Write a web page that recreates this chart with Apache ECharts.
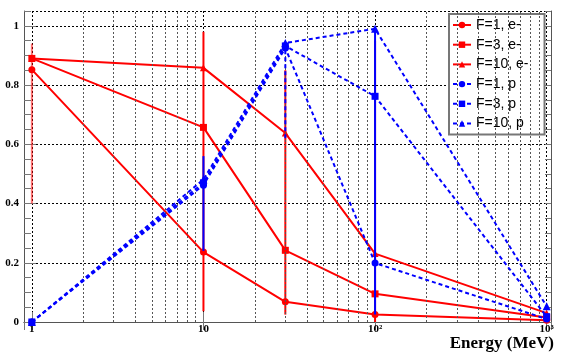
<!DOCTYPE html>
<html><head><meta charset="utf-8">
<script src="https://cdn.jsdelivr.net/npm/echarts@6/dist/echarts.min.js"></script>
<style>html,body{margin:0;padding:0;background:#fff}#c{width:572px;height:355px}</style>
</head><body><div id="c"></div>
<script>
// ---- data ----
const energies = [1, 10, 30, 100, 1000];
const eF1  = [0.852, 0.236, 0.068, 0.025, 0.006];
const eF3  = [0.890, 0.657, 0.242, 0.095, 0.015];
const eF10 = [0.890, 0.858, 0.638, 0.231, 0.030];
const pF1  = [0.000, 0.462, 0.925, 0.199, 0.010];
const pF3  = [0.000, 0.470, 0.932, 0.762, 0.018];
const pF10 = [0.000, 0.481, 0.942, 0.990, 0.053];
const eErrX    = [1, 10, 30, 100];
const eErrLow  = [0.40, 0.036, 0.025, 0.0];
const eErrHigh = [0.94, 0.98, 0.85, 0.95];
const pErrX    = [10, 30, 100];
const pErrLow  = [0.24, 0.62, 0.025];
const pErrHigh = [0.56, 0.94, 0.99];
const minorGridX = [2,3,4,5,6,7,8,9,20,30,40,50,60,70,80,90,200,300,400,500,600,700,800,900];
const seriesNames = ['F=1, e-', 'F=3, e-', 'F=10, e-', 'F=1, p', 'F=3, p', 'F=10, p'];
const xTitle = 'Energy (MeV)';

// ---- chart ----
const chart = echarts.init(document.getElementById('c'));
const RED = '#ff0000', BLUE = '#0000ff';
const pts = arr => energies.map((x, i) => [x, arr[i]]);

function errSeries(xs, lo, hi, color, name, z) {
  return {
    type: 'custom', name: name, z: z, silent: true,
    xAxisIndex: 0, yAxisIndex: 0,
    data: xs.map((x, i) => [x, lo[i], hi[i]]),
    encode: { x: 0, y: [1, 2] },
    renderItem: function (params, api) {
      const a = api.coord([api.value(0), api.value(1)]);
      const b = api.coord([api.value(0), api.value(2)]);
      let opacity = 1, dash = null;
      if (color === RED && params.dataIndex === 0) opacity = 0.55;
      if (color === BLUE && params.dataIndex === 1) dash = [4, 3];
      return {
        type: 'line',
        shape: { x1: a[0], y1: a[1], x2: b[0], y2: b[1] },
        style: { stroke: color, lineWidth: 2, opacity: opacity, lineDash: dash }
      };
    }
  };
}

function lineSeries(name, arr, color, symbol, dashed, size) {
  return {
    type: 'line', name: name, data: pts(arr), z: dashed ? 6 : 4,
    symbol: symbol, symbolSize: size, showSymbol: true,
    itemStyle: { color: color },
    lineStyle: { color: color, width: 2, type: dashed ? [4, 3] : 'solid' },
    emphasis: { disabled: true }
  };
}

const serifLbl = { fontFamily: 'Liberation Serif', fontWeight: 'bold', fontSize: 11, color: '#000' };

const option = {
  animation: false,
  backgroundColor: '#fff',
  grid: { left: 24, right: 21, top: 11, bottom: 33 },
  legend: {
    orient: 'vertical', left: 449, top: 14,
    data: seriesNames,
    backgroundColor: '#fff', borderColor: '#777', borderWidth: 2,
    padding: [4, 16, 4, 3],
    itemWidth: 18, itemHeight: 8, itemGap: 5.7,
    textStyle: { fontFamily: 'Liberation Sans', fontSize: 14, color: '#000', lineHeight: 14 }
  },
  xAxis: [
    {
      type: 'log', logBase: 10, min: 0.9, max: 1060, position: 'bottom',
      axisLine: { show: true, lineStyle: { color: '#555', width: 1 } },
      axisTick: { show: true, inside: true, length: 10, lineStyle: { color: '#777' } },
      axisLabel: Object.assign({}, serifLbl, {
        margin: 2, showMinLabel: false, showMaxLabel: false,
        formatter: function (v) {
          const l = Math.log10(v), r = Math.round(l);
          if (Math.abs(l - r) > 1e-6) return '';
          return ['1', '10', '10²', '10³'][r] || '';
        }
      }),
      splitLine: { show: true, lineStyle: { color: '#000', type: [2, 2], width: 1 } },
      name: xTitle, nameLocation: 'end', nameGap: 3,
      nameTextStyle: { fontFamily: 'Liberation Serif', fontWeight: 'bold', fontSize: 17, color: '#000',
        align: 'right', verticalAlign: 'top', padding: [13, 0, 0, 0] }
    },
    {
      type: 'log', logBase: 10, min: 0.9, max: 1060, position: 'top',
      axisLine: { show: true, lineStyle: { color: '#555', width: 1 } },
      axisTick: { show: true, inside: true, length: 8, lineStyle: { color: '#777' } },
      axisLabel: { show: false }, splitLine: { show: false }
    }
  ],
  yAxis: [
    {
      type: 'value', min: 0, max: 1.05, interval: 0.2, position: 'left',
      axisLine: { show: true, lineStyle: { color: '#555', width: 1 } },
      axisTick: { show: true, inside: true, length: 12, lineStyle: { color: '#777' } },
      axisLabel: Object.assign({}, serifLbl, { margin: 5, showMaxLabel: false }),
      splitLine: { show: true, lineStyle: { color: '#000', type: [2, 2], width: 1 } }
    },
    {
      type: 'value', min: 0, max: 1.05, interval: 0.05, position: 'left',
      axisLine: { show: false },
      axisTick: { show: true, inside: true, length: 7, lineStyle: { color: '#777' } },
      axisLabel: { show: false }, splitLine: { show: false }
    },
    {
      type: 'value', min: 0, max: 1.05, interval: 0.05, position: 'right',
      axisLine: { show: true, lineStyle: { color: '#555', width: 1 } },
      axisTick: { show: true, inside: true, length: 6, lineStyle: { color: '#777' } },
      axisLabel: { show: false }, splitLine: { show: false }
    }
  ],
  series: [
    {
      type: 'line', name: 'grid', data: [[1, 0]], symbol: 'none', z: 1, silent: true,
      lineStyle: { opacity: 0 },
      markLine: {
        silent: true, symbol: ['none', 'none'], label: { show: false },
        lineStyle: { color: '#555', type: [2, 2], width: 1 },
        data: minorGridX.map(v => ({ xAxis: v }))
      }
    },
    errSeries(eErrX, eErrLow, eErrHigh, RED, 'eErr', 3),
    lineSeries(seriesNames[0], eF1, RED, 'circle', false, 7),
    lineSeries(seriesNames[1], eF3, RED, 'rect', false, 7),
    lineSeries(seriesNames[2], eF10, RED, 'triangle', false, 7),
    errSeries(pErrX, pErrLow, pErrHigh, BLUE, 'pErr', 5),
    lineSeries(seriesNames[3], pF1, BLUE, 'circle', true, 7),
    lineSeries(seriesNames[4], pF3, BLUE, 'rect', true, 7),
    lineSeries(seriesNames[5], pF10, BLUE, 'triangle', true, 8)
  ]
};
chart.setOption(option);
</script>
</body></html>
